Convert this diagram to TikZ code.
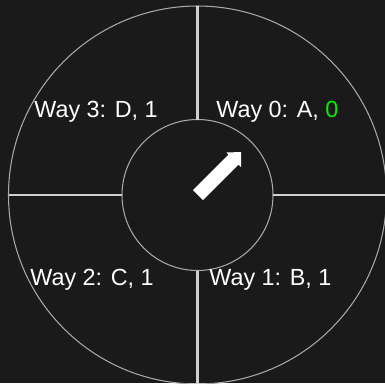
\documentclass[tikz,border=0pt]{standalone}
\usepackage{fontspec}
\setmainfont{Liberation Sans}
\usetikzlibrary{calc}
\begin{document}
\begin{tikzpicture}[x=0.02cm,y=-0.02cm,
  ring/.style={draw=ringgray,line width=0.6pt},
  divider/.style={draw=divgray,line width=1.2pt},
  waylabel/.style={anchor=base west,inner sep=0pt,text=white,font=\fontsize{13.3}{15}\selectfont}]
\definecolor{bg}{HTML}{1A1A1A}
\definecolor{ringgray}{HTML}{A8A8A8}
\definecolor{divgray}{HTML}{CFCFCF}
\definecolor{hitgreen}{HTML}{00F000}
\fill[bg] (0,0) rectangle (385,383);
\useasboundingbox (0,0) rectangle (385,383);
\coordinate (c) at (197.5,195);
\draw[ring] (c) circle[radius=189];
\draw[ring] (c) circle[radius=75.5];
% dividers
\coordinate (nOut) at ($(c)+(0,-189)$);
\coordinate (nIn) at ($(c)+(0,-75.5)$);
\coordinate (sOut) at ($(c)+(0,189)$);
\coordinate (sIn) at ($(c)+(0,75.5)$);
\coordinate (wOut) at ($(c)+(-189,0)$);
\coordinate (wIn) at ($(c)+(-75.5,0)$);
\coordinate (eOut) at ($(c)+(189,0)$);
\coordinate (eIn) at ($(c)+(75.5,0)$);
\draw[divider] (nOut) -- (nIn);
\draw[divider] (sIn) -- (sOut);
\draw[divider] (wOut) -- (wIn);
\draw[divider] (eIn) -- (eOut);
% pointer arrow
\fill[white] (193,190) -- (228.5,154.5) -- (226.5,152.5) -- (241,152) -- (241,167) -- (238.5,164.5) -- (203,200) -- cycle;
% labels
\node[waylabel] (w0) at (216,117) {Way 0: A, \textcolor{hitgreen}{0}};
\node[waylabel] (w3) at (34,117) {Way 3: D, 1};
\node[waylabel] (w2) at (30,285) {Way 2: C, 1};
\node[waylabel] (w1) at (209,285) {Way 1: B, 1};
\end{tikzpicture}
\end{document}
